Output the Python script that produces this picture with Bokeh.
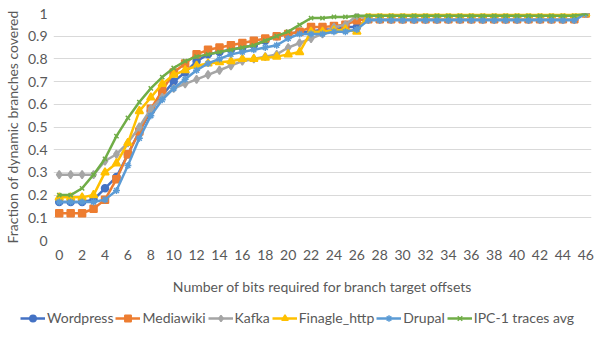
from bokeh.plotting import figure
from bokeh.layouts import column, row
from bokeh.models import FixedTicker, Legend, LegendItem, Range1d
from bokeh.embed import file_html
from bokeh.resources import INLINE

bits = [0, 1, 2, 3, 4, 5, 6, 7, 8, 9, 10, 11, 12, 13, 14, 15, 16, 17, 18, 19, 20, 21, 22, 23,
        24, 25, 26, 27, 28, 29, 30, 31, 32, 33, 34, 35, 36, 37, 38, 39, 40, 41, 42, 43, 44, 45, 46]

wordpress = [0.17, 0.17, 0.17, 0.18, 0.23, 0.28, 0.38, 0.48, 0.57, 0.64, 0.70, 0.74, 0.79, 0.82,
             0.83, 0.84, 0.85, 0.86, 0.88, 0.90, 0.91, 0.92, 0.92, 0.93, 0.93, 0.94, 0.94,
             0.975, 0.975, 0.975, 0.975, 0.975, 0.975, 0.975, 0.975, 0.975, 0.975, 0.975, 0.975,
             0.975, 0.975, 0.975, 0.975, 0.975, 0.975, 0.975, 1.0]
mediawiki = [0.12, 0.12, 0.12, 0.14, 0.18, 0.27, 0.38, 0.48, 0.58, 0.66, 0.74, 0.78, 0.82, 0.84,
             0.85, 0.86, 0.87, 0.88, 0.89, 0.90, 0.91, 0.92, 0.94, 0.94, 0.945, 0.95, 0.97,
             0.975, 0.975, 0.975, 0.975, 0.975, 0.975, 0.975, 0.975, 0.975, 0.975, 0.975, 0.975,
             0.975, 0.975, 0.975, 0.975, 0.975, 0.975, 0.975, 1.0]
kafka = [0.29, 0.29, 0.29, 0.29, 0.35, 0.38, 0.43, 0.50, 0.58, 0.63, 0.67, 0.69, 0.71, 0.73,
         0.75, 0.77, 0.79, 0.80, 0.81, 0.82, 0.85, 0.87, 0.89, 0.91, 0.94, 0.95, 0.99,
         0.975, 0.975, 0.975, 0.975, 0.975, 0.975, 0.975, 0.975, 0.975, 0.975, 0.975, 0.975,
         0.975, 0.975, 0.975, 0.975, 0.975, 0.975, 0.975, 1.0]
finagle = [0.19, 0.19, 0.19, 0.20, 0.30, 0.34, 0.43, 0.57, 0.63, 0.69, 0.73, 0.75, 0.77, 0.78,
           0.785, 0.79, 0.80, 0.80, 0.805, 0.81, 0.82, 0.83, 0.92, 0.92, 0.925, 0.93, 0.92,
           0.995, 0.995, 0.995, 0.995, 0.995, 0.995, 0.995, 0.995, 0.995, 0.995, 0.995, 0.995,
           0.995, 0.995, 0.995, 0.995, 0.995, 0.995, 0.995, 1.0]
drupal = [0.17, 0.17, 0.17, 0.17, 0.18, 0.22, 0.33, 0.45, 0.55, 0.62, 0.67, 0.71, 0.75, 0.78,
          0.80, 0.82, 0.83, 0.84, 0.85, 0.86, 0.89, 0.91, 0.91, 0.91, 0.92, 0.92, 0.93,
          0.97, 0.97, 0.97, 0.97, 0.97, 0.97, 0.97, 0.97, 0.97, 0.97, 0.97, 0.97,
          0.97, 0.97, 0.97, 0.97, 0.97, 0.97, 0.97, 1.0]
ipc1 = [0.20, 0.20, 0.23, 0.29, 0.36, 0.46, 0.54, 0.61, 0.67, 0.72, 0.76, 0.79, 0.81, 0.82,
        0.83, 0.84, 0.85, 0.86, 0.88, 0.90, 0.92, 0.95, 0.98, 0.98, 0.985, 0.985, 0.99,
        0.99, 0.99, 0.99, 0.99, 0.99, 0.99, 0.99, 0.99, 0.99, 0.99, 0.99, 0.99,
        0.99, 0.99, 0.99, 0.99, 0.99, 0.99, 0.99, 1.0]

series_names = ["Wordpress", "Mediawiki", "Kafka", "Finagle_http", "Drupal", "IPC-1 traces avg"]
series_values = [wordpress, mediawiki, kafka, finagle, drupal, ipc1]
colors = ["#4472C4", "#ED7D31", "#A5A5A5", "#FFC000", "#5B9BD5", "#70AD47"]
markers = ["circle", "square", "diamond", "triangle", "asterisk", "x"]
sizes = [7, 7, 8, 8, 7, 6]

x_ticks = [0, 2, 4, 6, 8, 10, 12, 14, 16, 18, 20, 22, 24, 26, 28, 30, 32, 34, 36, 38, 40, 42, 44, 46]
y_ticks = [0, 0.1, 0.2, 0.3, 0.4, 0.5, 0.6, 0.7, 0.8, 0.9, 1]

FONT = "Lato"
TXT = "#595959"

p = figure(width=598, height=300, output_backend="svg", toolbar_location=None,
           x_range=(-0.5, 46.5), y_range=(0, 1),
           min_border_left=52, min_border_right=7, min_border_top=13, min_border_bottom=60)
p.outline_line_color = None
p.background_fill_color = "white"
p.border_fill_color = "white"

p.xgrid.grid_line_color = None
p.ygrid.grid_line_color = "#D9D9D9"
p.ygrid.grid_line_width = 1

p.xaxis.ticker = FixedTicker(ticks=x_ticks)
p.yaxis.ticker = FixedTicker(ticks=y_ticks)
p.yaxis.major_label_overrides = {0: "0", 1: "1"}
for ax in (p.xaxis, p.yaxis):
    ax.axis_line_color = None
    ax.major_tick_line_color = None
    ax.minor_tick_line_color = None
    ax.major_tick_out = 0
    ax.major_tick_in = 0
    ax.minor_tick_out = 0
    ax.minor_tick_in = 0
    ax.major_label_text_font = FONT
    ax.major_label_text_font_size = "14px"
    ax.major_label_text_color = TXT
    ax.axis_label_text_font = FONT
    ax.axis_label_text_font_size = "14px"
    ax.axis_label_text_color = TXT
    ax.axis_label_text_font_style = "normal"
p.xaxis.major_label_standoff = 9
p.yaxis.major_label_standoff = 6
p.xaxis.axis_label = "Number of bits required for branch target offsets"
p.yaxis.axis_label = "Fraction of dynamic branches covered"
p.xaxis.axis_label_standoff = 15
p.yaxis.axis_label_standoff = 4

for vals, c, m, s in zip(series_values, colors, markers, sizes):
    p.line(bits, vals, line_color=c, line_width=2.5)
    p.scatter(bits, vals, marker=m, size=s, fill_color=c, line_color=c, line_width=1.5)

# legend strip below the chart (same glyph styles, no visible data)
NAN = float("nan")
pl = figure(width=598, height=41, output_backend="svg", toolbar_location=None,
            x_range=Range1d(0, 1), y_range=Range1d(0, 1),
            x_axis_location=None, y_axis_location=None,
            min_border_left=0, min_border_right=0, min_border_top=0, min_border_bottom=0)
pl.outline_line_color = None
pl.xgrid.visible = False
pl.ygrid.visible = False
items = []
for name, c, m, s in zip(series_names, colors, markers, sizes):
    lr = pl.line([NAN], [NAN], line_color=c, line_width=2.5)
    sr = pl.scatter([NAN], [NAN], marker=m, size=s, fill_color=c, line_color=c, line_width=1.5)
    items.append(LegendItem(label=name, renderers=[lr, sr]))

legend = Legend(items=items, orientation="horizontal", location=(20, 15),
                label_text_font=FONT, label_text_font_size="14px", label_text_color=TXT,
                glyph_width=25, glyph_height=16, label_standoff=2, spacing=2,
                padding=0, margin=0, border_line_color=None, background_fill_alpha=0)
pl.add_layout(legend, "center")

layout = column(row(p), row(pl), spacing=0)
open("out.html", "w").write(file_html(layout, INLINE))
